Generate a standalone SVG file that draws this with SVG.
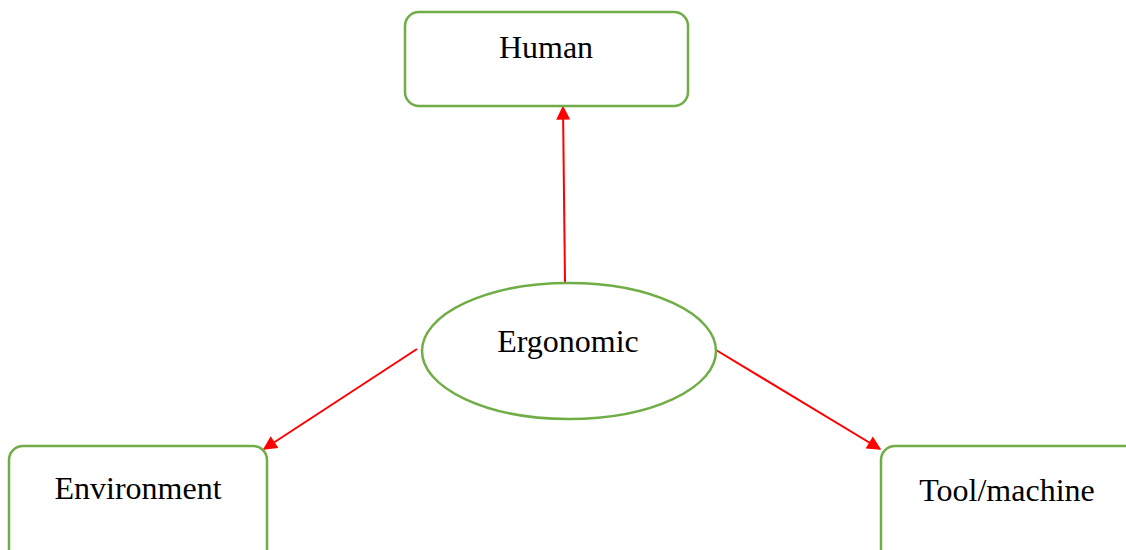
<svg xmlns="http://www.w3.org/2000/svg" width="1126" height="550" viewBox="0 0 1126 550">
<style>
.box{fill:#fff;stroke:#70AD47;stroke-width:2.5}
.lbl{font-family:"Liberation Serif","Times New Roman",serif;font-size:32px;fill:#000;text-anchor:middle}
</style>
<defs>
<marker id="ah2" viewBox="0 0 10 10" refX="9" refY="5" markerWidth="16" markerHeight="14" markerUnits="userSpaceOnUse" orient="auto">
<path d="M0,0 L10,5 L0,10 z" fill="#FF0000"/>
</marker>
</defs>
<g id="connectors">
<line x1="565" y1="282" x2="563" y2="107" stroke="#FF0000" stroke-width="2" marker-end="url(#ah2)"/>
<line x1="417" y1="349" x2="264" y2="449" stroke="#FF0000" stroke-width="2" marker-end="url(#ah2)"/>
<line x1="716" y1="350" x2="880" y2="449" stroke="#FF0000" stroke-width="2" marker-end="url(#ah2)"/>
</g>
<g id="human">
<rect class="box" x="405" y="12" width="283" height="94" rx="14"/>
<text class="lbl" x="546" y="58">Human</text>
</g>
<g id="ergonomic">
<ellipse class="box" cx="569" cy="351" rx="147" ry="68"/>
<text class="lbl" x="568" y="352">Ergonomic</text>
</g>
<g id="environment">
<rect class="box" x="9" y="446" width="258" height="120" rx="14"/>
<text class="lbl" x="138" y="499">Environment</text>
</g>
<g id="tool">
<rect class="box" x="881" y="446" width="260" height="120" rx="14"/>
<text class="lbl" x="1007" y="501">Tool/machine</text>
</g>
</svg>
